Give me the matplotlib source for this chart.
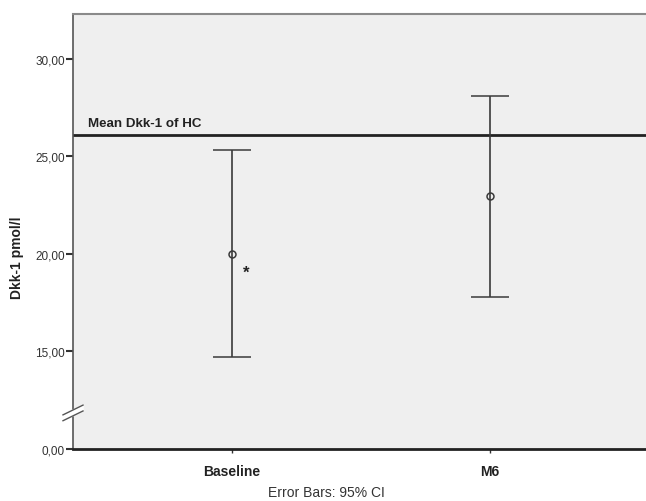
import matplotlib
matplotlib.use("Agg")
import matplotlib.pyplot as plt
import matplotlib.transforms as mtransforms

categories = ["Baseline", "M6"]
means = [20.0, 22.95]
ci_lower = [14.71, 17.79]
ci_upper = [25.34, 28.11]
hc_mean = 26.11
ytick_values = [10, 15, 20, 25, 30]
ytick_labels = ["0,00", "15,00", "20,00", "25,00", "30,00"]

plt.rcParams['font.family'] = ['Liberation Sans', 'DejaVu Sans']

W, H = 646, 502
fig = plt.figure(figsize=(W / 100, H / 100), dpi=100)
ax = fig.add_axes([73 / W, 52 / H, 573 / W, 435 / H])
ax.set_facecolor("#efefef")

x = [1, 2]
yerr = [[m - l for m, l in zip(means, ci_lower)], [u - m for m, u in zip(means, ci_upper)]]
ax.errorbar(x, means, yerr=yerr, fmt='o', color='#3a3a3a', ecolor='#3a3a3a',
            elinewidth=1.2, capsize=14, capthick=1.2, markersize=5,
            markerfacecolor='none', markeredgewidth=1.1, zorder=3)

ax.axhline(hc_mean, color='#222222', lw=2, zorder=2)
ax.text(0.441, hc_mean + 0.3, "Mean Dkk-1 of HC", fontsize=9.6, fontweight='bold',
        color='#222222', ha='left', va='bottom')

ax.text(1.057, 19.05, "*", fontsize=12, fontweight='bold', color='#222222',
        ha='center', va='center')

ax.set_xlim(0.384, 2.605)
ax.set_ylim(10, 32.3)
ax.set_xticks(x)
ax.set_xticklabels(categories, fontsize=10, fontweight='bold', color='#222222')
ax.set_yticks(ytick_values)
ax.set_yticklabels(ytick_labels, fontsize=8.5, color='#333333')
ax.tick_params(axis='y', length=5, width=1.5, color='#333333', pad=1)
ax.tick_params(axis='x', length=3, width=1, color='#333333', pad=8)

ax.spines['right'].set_visible(False)
ax.spines['top'].set_color('#8a8a8a')
ax.spines['top'].set_linewidth(1.5)
ax.spines['left'].set_color('#555555')
ax.spines['left'].set_linewidth(1.2)
ax.spines['bottom'].set_color('#222222')
ax.spines['bottom'].set_linewidth(2)

fig.text(17 / W, 1 - 258 / H, "Dkk-1 pmol/l", fontsize=10, fontweight='bold',
         color='#222222', rotation=90, ha='center', va='center')

# axis break marks
trans = mtransforms.blended_transform_factory(ax.transAxes, ax.transData)
dx = 10 / 573
ax.fill([-dx, dx, dx, -dx], [11.45, 11.95, 12.25, 11.75], color='white',
        transform=trans, clip_on=False, zorder=5)
for y0 in (11.45, 11.75):
    ax.plot([-dx, dx], [y0, y0 + 0.5], color='#555555', lw=1,
            transform=trans, clip_on=False, zorder=6)

fig.text(326 / W, 1 - 493 / H, "Error Bars: 95% CI", fontsize=10, color='#333333',
         ha='center', va='center')

fig.savefig("out.png", dpi=100)
